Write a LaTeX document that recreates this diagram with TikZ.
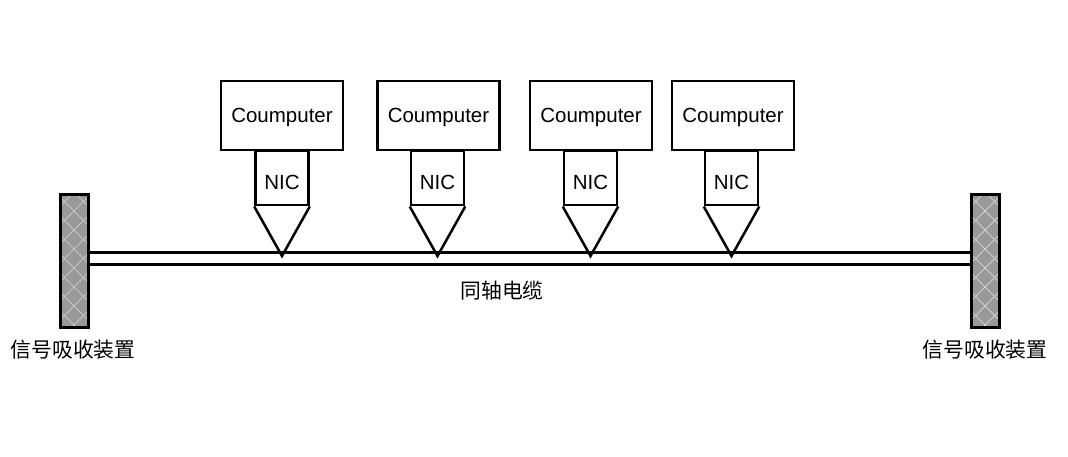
\documentclass[tikz,border=0pt]{standalone}
\usepackage{fontspec}
\setmainfont{Liberation Sans}
\newfontfamily\cjk{Noto Sans CJK SC}
\begin{document}
\begin{tikzpicture}[x=1pt,y=-1pt,
  pcbox/.style={draw,line width=2.5pt,minimum width=122pt,minimum height=69pt,inner sep=0pt},
  nicbox/.style={draw,line width=2.5pt,minimum width=53pt,minimum height=54pt,inner sep=0pt},
  txt/.style={inner sep=0pt,font=\fontsize{20.5}{24}\selectfont},
  lbl/.style={font=\cjk\fontsize{20.8}{24}\selectfont,inner sep=0pt},
  cable/.style={line width=3pt},
  tap/.style={line width=2.5pt,line join=miter}]
\useasboundingbox (0,0) rectangle (1068,457);
% terminators
\foreach \nm/\xa in {tl/60,tr/971}{
  \begin{scope}
    \clip (\xa,195) rectangle (\xa+28,327);
    \fill[gray!80] (\xa,195) rectangle (\xa+28,327);
    \foreach \k in {-10,...,20}{
      \draw[white!70!gray,line width=0.7pt] (\xa-40,195+\k*19) -- ++(100,100);
      \draw[white!70!gray,line width=0.7pt] (\xa+68,195+\k*19) -- ++(-100,100);
    }
  \end{scope}
  \node[draw,line width=3pt,minimum width=28pt,minimum height=132pt,inner sep=0pt] (\nm) at (\xa+14,261) {};
}
% cable
\coordinate (c1a) at (tl.east |- 0,252);
\coordinate (c1b) at (tr.west |- 0,252);
\coordinate (c2a) at (tl.east |- 0,264);
\coordinate (c2b) at (tr.west |- 0,264);
\draw[cable] (c1a) -- (c1b);
\draw[cable] (c2a) -- (c2b);
% computers
\foreach \i/\cx/\nx in {1/282/282,2/438.5/437.5,3/591/590.5,4/733/731.5}{
  \node[pcbox] (pc\i) at (\cx,115.5) {};
  \node[txt] (pct\i) at ([yshift=-1.5pt]pc\i.center) {Coumputer};
  \node[nicbox,anchor=north] (nic\i) at (\nx,150) {};
  \node[txt] (nict\i) at ([yshift=-4pt]nic\i.center) {NIC};
  \coordinate (tip\i) at (\nx,256);
  \draw[tap] (nic\i.south west) -- (tip\i) -- (nic\i.south east);
}
\node[lbl] (cable) at (502,291) {同轴电缆};
\node[lbl] (lbL) at (73,350) {信号吸收装置};
\node[lbl] (lbR) at (985,350) {信号吸收装置};
\end{tikzpicture}
\end{document}
